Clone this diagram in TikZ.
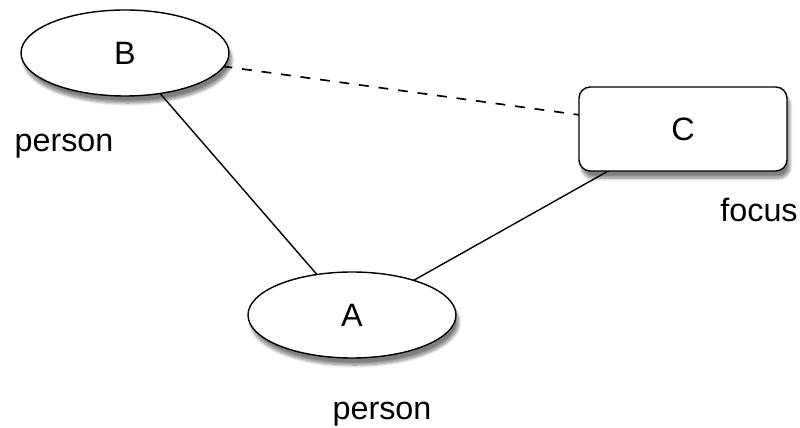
\documentclass[tikz,border=0pt]{standalone}
\usepackage{fontspec}
\setmainfont{Liberation Sans}
\usetikzlibrary{shapes}
\usetikzlibrary{shadows.blur}

\begin{document}
\begin{tikzpicture}[every node/.style={font=\fontsize{23}{26}\selectfont},
        thing/.style={ellipse, draw, line width=1pt, fill=white, minimum width=5.2cm, minimum height=2.15cm,
            blur shadow={shadow xshift=2pt, shadow yshift=-5pt, shadow opacity=50, shadow blur steps=10}},
        focusbox/.style={rectangle, rounded corners=8pt, draw, line width=1pt, fill=white, minimum width=5.2cm, minimum height=2.1cm,
            blur shadow={shadow xshift=2pt, shadow yshift=-5pt, shadow opacity=50, shadow blur steps=10}},
        tag/.style={anchor=base}]
            \useasboundingbox (0, 0) rectangle (20, 10.675);
            \draw[line width=1pt] (3.125, 9.35) -- (8.8, 2.8);
            \draw[line width=1pt] (17.075, 7.45) -- (8.8, 2.8);
            \draw[line width=1.2pt, dash pattern=on 7pt off 7pt] (3.125, 9.35) -- (17.075, 7.45);

            \node[thing] (b) at (3.125, 9.35) {B};
            \node[focusbox] (c) at (17.075, 7.45) {C};
            \node[thing] (a) at (8.8, 2.8) {A};

            \node[tag] (bl) at (1.6, 6.875) {person};
            \node[tag] (cl) at (18.975, 5.125) {focus};
            \node[tag] (al) at (9.55, 0.2) {person};
        \end{tikzpicture}
\end{document}
